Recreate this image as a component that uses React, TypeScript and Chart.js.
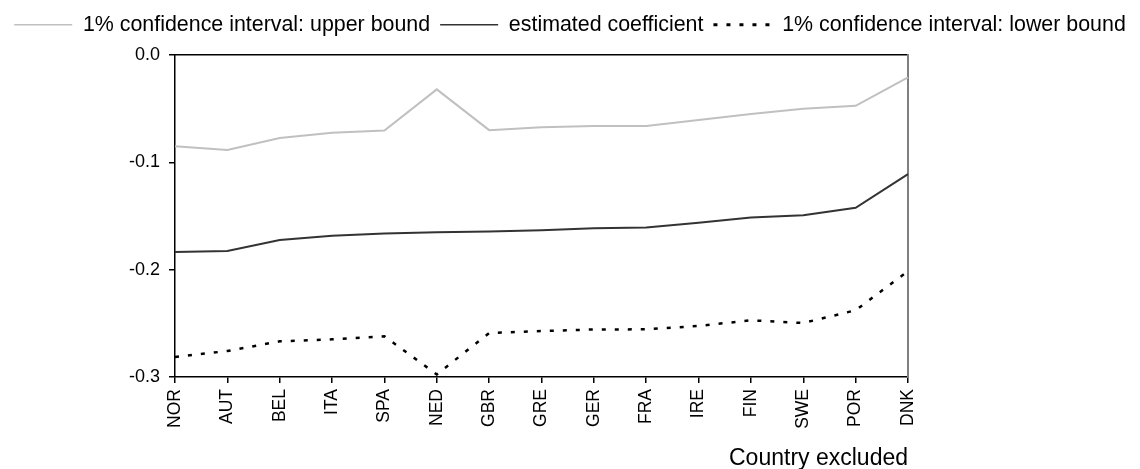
import React, { useEffect, useRef } from "react";
import { Chart, registerables } from "chart.js";

Chart.register(...registerables);

const countries = ["NOR", "AUT", "BEL", "ITA", "SPA", "NED", "GBR", "GRE", "GER", "FRA", "IRE", "FIN", "SWE", "POR", "DNK"];
const upperBound = [-0.085, -0.0886, -0.0774, -0.0725, -0.0703, -0.032, -0.070, -0.0674, -0.0662, -0.0662, -0.0606, -0.055, -0.0501, -0.0473, -0.0208];
const estimate = [-0.1835, -0.1825, -0.1723, -0.1685, -0.1663, -0.1651, -0.1645, -0.1632, -0.1614, -0.1607, -0.1564, -0.1514, -0.1492, -0.1424, -0.111];
const lowerBound = [-0.2814, -0.2758, -0.2668, -0.2649, -0.2621, -0.2976, -0.259, -0.2572, -0.2557, -0.2556, -0.2524, -0.2472, -0.2497, -0.2378, -0.2014];
const seriesNames = ["1% confidence interval: upper bound", "estimated coefficient", "1% confidence interval: lower bound"];
const yMin = -0.3;
const yMax = 0;
const yStep = 0.1;
const xTitle = "Country excluded";

const FONT = "'Liberation Sans', Arial, Helvetica, sans-serif";

export default function App() {
  const ref = useRef<HTMLCanvasElement | null>(null);

  useEffect(() => {
    document.body.style.margin = "0";
    const canvas = ref.current;
    if (!canvas) return;
    const chart = new Chart(canvas, {
      type: "line",
      data: {
        labels: countries,
        datasets: [
          {
            label: seriesNames[0],
            data: upperBound,
            borderColor: "#c0c0c0",
            backgroundColor: "#c0c0c0",
            borderWidth: 2,
            pointRadius: 0,
            tension: 0,
          },
          {
            label: seriesNames[1],
            data: estimate,
            borderColor: "#333333",
            backgroundColor: "#333333",
            borderWidth: 2,
            pointRadius: 0,
            tension: 0,
          },
          {
            label: seriesNames[2],
            data: lowerBound,
            borderColor: "#000000",
            backgroundColor: "#000000",
            borderWidth: 2.5,
            borderDash: [4, 9],
            pointRadius: 0,
            tension: 0,
          },
        ],
      },
      options: {
        responsive: false,
        animation: false,
        layout: { padding: { top: 4, left: 0, right: 0, bottom: 0 } },
        plugins: {
          tooltip: { enabled: false },
          legend: {
            position: "top",
            labels: {
              usePointStyle: true,
              pointStyle: "line",
              pointStyleWidth: 58,
              padding: 10,
              color: "#000",
              font: { family: FONT, size: 21.4 },
              generateLabels: (c: any) => {
                const items = Chart.defaults.plugins.legend.labels.generateLabels(c);
                return items.map((it: any) => {
                  const ds: any = c.data.datasets[it.datasetIndex];
                  return {
                    ...it,
                    strokeStyle: ds.borderColor,
                    fillStyle: ds.borderColor,
                    lineWidth: ds.borderWidth === 2.5 ? 3 : 1.5,
                    lineDash: ds.borderDash || [],
                    pointStyle: "line",
                  };
                });
              },
            },
          },
        },
        scales: {
          x: {
            type: "category",
            offset: false,
            ticks: {
              autoSkip: false,
              maxRotation: 90,
              minRotation: 90,
              padding: 6,
              color: "#000",
              font: { family: FONT, size: 17.5 },
            },
            grid: { drawOnChartArea: false, drawTicks: true, tickLength: 6, color: "#000", lineWidth: 1.5 },
            border: { display: true, color: "#000", width: 1.5 },
            title: {
              display: true,
              text: xTitle,
              align: "end",
              color: "#000",
              font: { family: FONT, size: 23, lineHeight: 1 },
              padding: { top: 0, bottom: -1 },
            },
            afterFit: (s: any) => {
              s.height = 92;
            },
          },
          xTop: {
            type: "category",
            position: "top",
            ticks: { display: false },
            grid: { display: false, drawTicks: false },
            border: { display: true, color: "#000", width: 1.5 },
            afterFit: (s: any) => {
              s.height = 9.6;
            },
          },
          y: {
            min: yMin,
            max: yMax,
            ticks: {
              stepSize: yStep,
              padding: 9,
              color: "#000",
              font: { family: FONT, size: 18 },
              callback: (v: any) => Number(v).toFixed(1),
            },
            grid: { drawOnChartArea: false, drawTicks: true, tickLength: 6, color: "#000", lineWidth: 1.5 },
            border: { display: true, color: "#000", width: 1.5 },
            afterFit: (s: any) => {
              s.width = 175;
            },
          },
          yRight: {
            type: "linear",
            position: "right",
            ticks: { display: false },
            grid: { display: false, drawTicks: false },
            border: { display: true, color: "#808080", width: 2 },
            afterFit: (s: any) => {
              s.width = 232;
            },
          },
        },
      },
    });
    return () => chart.destroy();
  }, []);

  return (
    <div style={{ width: 1140, height: 469, background: "#fff" }}>
      <canvas ref={ref} width={1140} height={469} style={{ display: "block" }} />
    </div>
  );
}
